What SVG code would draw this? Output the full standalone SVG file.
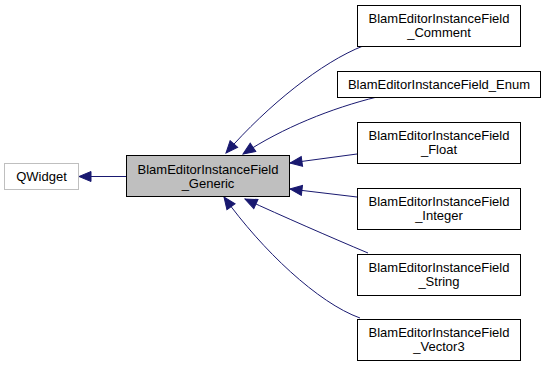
<svg xmlns="http://www.w3.org/2000/svg" width="547" height="365" viewBox="0 0 547 365">
<style>
text{font-family:"Liberation Sans",Arial,sans-serif;font-size:13px;text-anchor:middle;fill:#000}
.n{fill:#fff;stroke:#000;stroke-width:1}
.g{fill:#bfbfbf;stroke:#000;stroke-width:1}
.q{fill:#fff;stroke:#bfbfbf;stroke-width:1}
.e{fill:none;stroke:#191970;stroke-width:1}
</style>
<defs>
<marker id="a" markerUnits="userSpaceOnUse" markerWidth="14" markerHeight="12" viewBox="0 0 14 12" refX="13" refY="6" orient="auto">
<path d="M1,1 L13,6 L1,11 Z" fill="#191970" stroke="#191970"/>
</marker>
</defs>
<rect width="547" height="365" fill="#fff"/>
<g id="edges">
<path class="e" d="M126.5,176.5 L79,176.5" marker-end="url(#a)"/>
<path class="e" d="M363,46 C322,62 268,105 226,153" marker-end="url(#a)"/>
<path class="e" d="M377,97 C332,108 282,128 243,154" marker-end="url(#a)"/>
<path class="e" d="M357,154 L290,163" marker-end="url(#a)"/>
<path class="e" d="M357,197 L290,189" marker-end="url(#a)"/>
<path class="e" d="M368,253 C330,237 282,216 245,199" marker-end="url(#a)"/>
<path class="e" d="M360,318 C318,303 262,250 224,197" marker-end="url(#a)"/>
</g>
<g id="QWidget">
<rect class="q" x="4.5" y="163.5" width="74" height="26"/>
<text x="41.5" y="181">QWidget</text>
</g>
<g id="Generic">
<rect class="g" x="126.5" y="155.5" width="163" height="41"/>
<text x="208" y="173.5">BlamEditorInstanceField</text>
<text x="208" y="188">_Generic</text>
</g>
<g id="Comment">
<rect class="n" x="357.5" y="5.5" width="163" height="41"/>
<text x="439" y="22.5">BlamEditorInstanceField</text>
<text x="439" y="37">_Comment</text>
</g>
<g id="Enum">
<rect class="n" x="337.5" y="71.5" width="203" height="26"/>
<text x="439" y="89">BlamEditorInstanceField_Enum</text>
</g>
<g id="Float">
<rect class="n" x="357.5" y="122.5" width="163" height="41"/>
<text x="439" y="139.5">BlamEditorInstanceField</text>
<text x="439" y="154">_Float</text>
</g>
<g id="Integer">
<rect class="n" x="357.5" y="188.5" width="163" height="41"/>
<text x="439" y="205.5">BlamEditorInstanceField</text>
<text x="439" y="220">_Integer</text>
</g>
<g id="String">
<rect class="n" x="357.5" y="254.5" width="163" height="41"/>
<text x="439" y="271.5">BlamEditorInstanceField</text>
<text x="439" y="286">_String</text>
</g>
<g id="Vector3">
<rect class="n" x="357.5" y="319.5" width="163" height="41"/>
<text x="439" y="336.5">BlamEditorInstanceField</text>
<text x="439" y="351">_Vector3</text>
</g>
</svg>
